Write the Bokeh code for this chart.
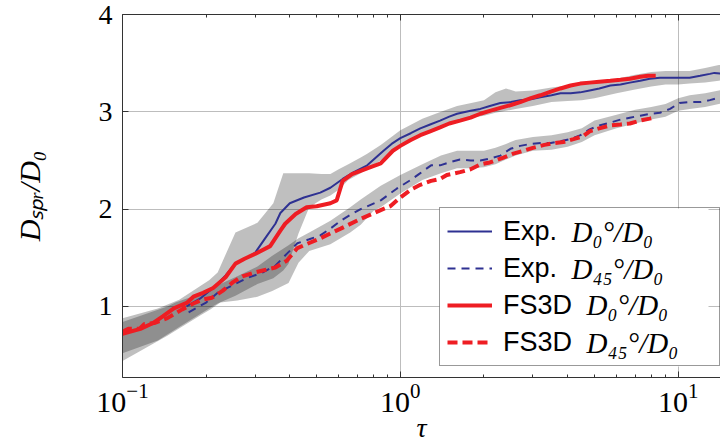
from bokeh.plotting import figure
from bokeh.models import (LogAxis, FixedTicker, Legend, LegendItem, Label,
                          BoxAnnotation, CustomJSTickFormatter)
from bokeh.embed import file_html
from bokeh.resources import INLINE

# ---------------- data ----------------
X_MAJOR = [0.1, 1, 10]
X_MINOR = [0.2, 0.3, 0.4, 0.5, 0.6, 0.7, 0.8, 0.9,
           2, 3, 4, 5, 6, 7, 8, 9]
Y_MAJOR = [1, 2, 3, 4]

exp0_t = [0.17, 0.19, 0.216, 0.235, 0.255, 0.28, 0.30, 0.326, 0.355, 0.37, 0.40,
          0.45, 0.515, 0.56, 0.62, 0.68, 0.76, 0.87, 0.93, 1.0, 1.09, 1.18, 1.28,
          1.39, 1.5, 1.6, 1.79, 1.94, 2.1, 2.29, 2.5, 2.7, 2.95, 3.19, 3.5, 3.77,
          4.1, 4.44, 4.8, 5.2, 5.7, 6.2, 6.7, 7.3, 7.9, 8.6, 9.35, 10.1, 11.0,
          12.0, 13.0, 13.5, 14.5, 16.0]
exp0_d = [1.00, 1.08, 1.21, 1.32, 1.44, 1.50, 1.55, 1.70, 1.85, 1.96, 2.06,
          2.12, 2.17, 2.22, 2.31, 2.38, 2.45, 2.60, 2.67, 2.73, 2.78, 2.83, 2.87,
          2.91, 2.95, 2.98, 3.01, 3.03, 3.06, 3.09, 3.10, 3.12, 3.13, 3.15, 3.17, 3.19,
          3.19, 3.20, 3.22, 3.24, 3.27, 3.28, 3.30, 3.32, 3.34, 3.35, 3.35, 3.35, 3.35,
          3.37, 3.39, 3.40, 3.39, 3.41]

exp45_t = [0.173, 0.2, 0.22, 0.25, 0.28, 0.32, 0.355, 0.39, 0.426, 0.47, 0.515,
           0.56, 0.61, 0.66, 0.72, 0.85, 0.97, 1.09, 1.18, 1.29, 1.39, 1.5, 1.64,
           1.79, 1.94, 2.1, 2.29, 2.49, 2.7, 2.94, 3.2, 3.48, 3.8, 4.1, 4.45, 4.8,
           5.2, 5.7, 6.2, 6.7, 7.3, 7.9, 8.6, 9.35, 10.1, 11.0, 12.0, 13.0, 14.2, 16.0]
exp45_d = [0.94, 1.04, 1.14, 1.22, 1.29, 1.35, 1.42, 1.54, 1.65, 1.69, 1.73,
           1.80, 1.88, 1.94, 2.00, 2.09, 2.21, 2.30, 2.37, 2.45, 2.45, 2.48, 2.51,
           2.50, 2.50, 2.52, 2.55, 2.62, 2.65, 2.67, 2.68, 2.68, 2.70, 2.72, 2.76, 2.82,
           2.86, 2.89, 2.92, 2.94, 2.96, 2.98, 2.99, 3.03, 3.09, 3.10, 3.10, 3.12, 3.15, 3.19]

fs0_t = [0.1, 0.116, 0.129, 0.14, 0.153, 0.171, 0.18, 0.195, 0.212, 0.235, 0.255,
         0.275, 0.30, 0.34, 0.37, 0.385, 0.42, 0.46, 0.50, 0.56, 0.59, 0.62, 0.67,
         0.76, 0.85, 0.94, 1.0, 1.09, 1.18, 1.28, 1.39, 1.5, 1.64, 1.79, 1.94, 2.1,
         2.29, 2.5, 2.7, 2.95, 3.19, 3.5, 3.77, 4.1, 4.44, 4.8, 5.2, 5.7, 6.2, 6.7,
         7.3, 7.8, 8.3]
fs0_d = [0.72, 0.77, 0.83, 0.90, 0.98, 1.04, 1.10, 1.14, 1.19, 1.30, 1.44,
         1.49, 1.54, 1.62, 1.78, 1.85, 1.95, 2.02, 2.03, 2.06, 2.09, 2.29, 2.36,
         2.42, 2.47, 2.60, 2.65, 2.71, 2.76, 2.80, 2.84, 2.88, 2.91, 2.94, 2.98, 3.01,
         3.04, 3.07, 3.10, 3.14, 3.17, 3.21, 3.24, 3.27, 3.29, 3.30, 3.31, 3.32, 3.33, 3.34,
         3.36, 3.37, 3.37]

fs45_t = [0.1, 0.105, 0.115, 0.12, 0.13, 0.145, 0.164, 0.18, 0.194, 0.21, 0.229,
          0.25, 0.27, 0.30, 0.32, 0.355, 0.39, 0.426, 0.515, 0.61, 0.72, 0.85, 0.92,
          1.0, 1.09, 1.18, 1.29, 1.39, 1.47, 1.64, 1.79, 1.94, 2.1, 2.35, 2.55, 2.78,
          3.0, 3.3, 3.6, 3.86, 4.2, 4.55, 4.8, 5.2, 5.7, 6.2, 6.7, 7.3, 7.9, 8.2]
fs45_d = [0.74, 0.77, 0.77, 0.82, 0.83, 0.88, 0.97, 1.03, 1.07, 1.09, 1.16,
          1.25, 1.31, 1.35, 1.37, 1.40, 1.47, 1.60, 1.70, 1.80, 1.90, 1.99, 2.03,
          2.12, 2.20, 2.25, 2.29, 2.31, 2.35, 2.38, 2.41, 2.46, 2.48, 2.53, 2.57, 2.60,
          2.63, 2.66, 2.68, 2.69, 2.72, 2.75, 2.80, 2.83, 2.86, 2.87, 2.88, 2.91, 2.93, 2.94]

band0_t = [0.1, 0.134, 0.16, 0.205, 0.22, 0.255, 0.306, 0.349, 0.379, 0.396, 0.43,
           0.47, 0.52, 0.56, 0.6, 0.65, 0.72, 0.76, 0.85, 1.0, 1.2, 1.4, 1.6, 1.8,
           2.0, 2.2, 2.4, 2.6, 3.0, 3.5, 4.0, 4.5, 5.0, 6.0, 7.0, 8.0, 9.0, 10.0,
           11.0, 12.5, 14.0, 16.0]
band0_hi = [0.88, 0.98, 1.07, 1.27, 1.35, 1.76, 1.86, 2.06, 2.37, 2.37, 2.37,
            2.37, 2.36, 2.36, 2.41, 2.46, 2.53, 2.57, 2.66, 2.81, 2.93, 3.00, 3.06, 3.09,
            3.12, 3.20, 3.24, 3.21, 3.22, 3.25, 3.27, 3.28, 3.30, 3.34, 3.38, 3.41, 3.42, 3.42,
            3.42, 3.45, 3.48, 3.49]
band0_lo = [0.52, 0.65, 0.79, 0.98, 1.03, 1.11, 1.23, 1.29, 1.37, 1.44, 1.75,
            2.02, 2.10, 2.14, 2.20, 2.30, 2.37, 2.41, 2.50, 2.64, 2.76, 2.85, 2.91, 2.94,
            2.96, 2.99, 3.01, 3.03, 3.06, 3.10, 3.11, 3.12, 3.14, 3.19, 3.23, 3.26, 3.28, 3.28,
            3.29, 3.30, 3.32, 3.33]

band45_t = [0.1, 0.145, 0.155, 0.191, 0.207, 0.225, 0.259, 0.306, 0.346, 0.396, 0.43,
            0.47, 0.56, 0.66, 0.72, 0.8, 0.85, 1.0, 1.2, 1.4, 1.6, 1.8, 2.0, 2.2, 2.4,
            2.6, 3.0, 3.5, 4.0, 4.5, 5.0, 6.0, 7.0, 8.0, 9.0, 10.0, 11.0, 12.5, 14.0, 16.0]
band45_hi = [0.84, 1.00, 1.04, 1.13, 1.17, 1.23, 1.31, 1.41, 1.52, 1.63, 1.70,
             1.76, 1.88, 2.02, 2.10, 2.19, 2.24, 2.35, 2.46, 2.55, 2.60, 2.60, 2.60, 2.63, 2.67,
             2.71, 2.74, 2.76, 2.79, 2.83, 2.91, 2.97, 3.02, 3.05, 3.08, 3.14, 3.17, 3.19, 3.22, 3.25]
band45_lo = [0.44, 0.70, 0.75, 0.91, 0.97, 1.04, 1.06, 1.10, 1.16, 1.24, 1.45,
             1.57, 1.64, 1.76, 1.84, 1.98, 2.02, 2.16, 2.30, 2.37, 2.42, 2.42, 2.43, 2.46, 2.51,
             2.55, 2.60, 2.61, 2.64, 2.69, 2.76, 2.83, 2.88, 2.92, 2.95, 3.01, 3.03, 3.05, 3.08, 3.11]

legend_lead = ["Exp.", "Exp.", "FS3D", "FS3D"]
legend_math = ["D\u2080\u00b0/D\u2080", "D\u2084\u2085\u00b0/D\u2080",
               "D\u2080\u00b0/D\u2080", "D\u2084\u2085\u00b0/D\u2080"]

BLUE = "#2E3192"
RED = "#EE1D23"
AXC = "#333333"

X_RANGE = (0.1, 14.2)
Y_RANGE = (0.27, 4.0)

# ---------------- figure ----------------
p = figure(width=720, height=445, x_axis_type="log",
           x_range=X_RANGE, y_range=Y_RANGE,
           output_backend="svg", toolbar_location=None,
           min_border_left=122, min_border_right=0,
           min_border_top=14, min_border_bottom=68)
p.outline_line_color = None
p.background_fill_color = "white"
p.border_fill_color = "white"

# bands
p.varea(x=band0_t, y1=band0_lo, y2=band0_hi, fill_color="black", fill_alpha=0.25)
p.varea(x=band45_t, y1=band45_lo, y2=band45_hi, fill_color="black", fill_alpha=0.25)

# lines
r_e0 = p.line(exp0_t, exp0_d, line_color=BLUE, line_width=2)
r_e45 = p.line(exp45_t, exp45_d, line_color=BLUE, line_width=2, line_dash="8 6")
r_f0 = p.line(fs0_t, fs0_d, line_color=RED, line_width=4)
r_f45 = p.line(fs45_t, fs45_d, line_color=RED, line_width=4, line_dash="10 5")

# axes
xa = p.xaxis[0]
xa.ticker = FixedTicker(ticks=X_MAJOR, minor_ticks=X_MINOR)
ya = p.yaxis[0]
ya.ticker = FixedTicker(ticks=Y_MAJOR)
for ax in (xa, ya):
    ax.axis_line_color = AXC
    ax.major_tick_line_color = AXC
    ax.minor_tick_line_color = AXC
    ax.major_tick_in = 6
    ax.major_tick_out = 0
    ax.minor_tick_in = 3
    ax.minor_tick_out = 0
    ax.major_label_text_font = "Liberation Serif"
    ax.major_label_text_color = "black"
    ax.axis_label_text_color = "black"
    ax.axis_label_text_font = "Liberation Serif"
    ax.axis_label_text_font_style = "italic"
ya.minor_tick_line_color = None
ya.major_label_text_font_size = "28px"
ya.major_label_standoff = 10
ya.axis_label = "D\u209b\u209a\u1d63/D\u2080"
ya.axis_label_text_font_size = "30px"
ya.axis_label_standoff = 50

xa.major_label_text_font_size = "30px"
xa.major_label_standoff = 6
xa.axis_label = "\u03c4"
xa.axis_label_text_font_size = "28px"
xa.axis_label_standoff = -3

top = LogAxis(ticker=FixedTicker(ticks=X_MAJOR, minor_ticks=X_MINOR),
              formatter=CustomJSTickFormatter(code="return ''"),
              axis_line_color=AXC, major_tick_line_color=AXC,
              minor_tick_line_color=AXC, major_tick_in=6, major_tick_out=0,
              minor_tick_in=3, minor_tick_out=0, major_label_standoff=0,
              major_label_text_font_size="1px")
p.add_layout(top, "above")

# grid
p.xgrid.ticker = FixedTicker(ticks=[1, 10])
p.ygrid.ticker = FixedTicker(ticks=[1, 2, 3])
p.xgrid.grid_line_color = "#bdbdbd"
p.ygrid.grid_line_color = "#bdbdbd"

# legend: opaque white panel first (offsets in px from the frame's bottom-left)
LEG_L, LEG_B, LEG_W, LEG_H = 317, 11, 269, 158
p.add_layout(BoxAnnotation(left=LEG_L, right=LEG_L + LEG_W, bottom=LEG_B, top=LEG_B + LEG_H,
                           left_units="screen", right_units="screen",
                           bottom_units="screen", top_units="screen",
                           fill_color="white", fill_alpha=1.0, line_color=None))

# math part of each entry
row_sy = [146, 109, 73, 35]
row_sx = [449, 449, 464, 464]
for i in range(4):
    p.add_layout(Label(x=row_sx[i], y=row_sy[i], x_units="screen", y_units="screen",
                       text=legend_math[i], text_font="Liberation Serif",
                       text_font_style="italic", text_font_size="29px",
                       text_baseline="middle", text_color="black"))

# legend box, samples and plain-text part (transparent background)
legend = Legend(items=[LegendItem(label=legend_lead[i], renderers=[r])
                       for i, r in enumerate([r_e0, r_e45, r_f0, r_f45])],
                location=(LEG_L, LEG_B), padding=7, spacing=5,
                glyph_width=45, glyph_height=32, label_height=32,
                label_width=209, label_standoff=11,
                label_text_font="Liberation Sans", label_text_font_size="27px",
                label_text_color="black",
                border_line_color=AXC, border_line_width=1,
                background_fill_alpha=0.0)
p.add_layout(legend)

open("out.html", "w").write(file_html(p, INLINE))
